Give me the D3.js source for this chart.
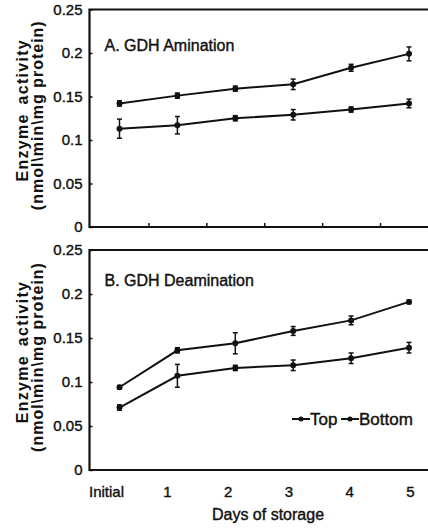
<!DOCTYPE html>
<html>
<head>
<meta charset="utf-8">
<script src="https://cdn.jsdelivr.net/npm/d3@7"></script>
<style>
  body { margin: 0; background: #fff; }
  svg { display: block; font-family: "Liberation Sans", Arial, sans-serif; }
  .tick text { font-size: 15px; fill: #111; stroke: #111; stroke-width: 0.4px; }
  .ttl { font-size: 16px; fill: #111; stroke: #111; stroke-width: 0.4px; }
</style>
</head>
<body>
<div class="graphic"></div>
<script>
var categories = ['Initial', '1', '2', '3', '4', '5'];
var yTicks = [0, 0.05, 0.1, 0.15, 0.2, 0.25];
var yTickLabels = ['0', '0.05', '0.1', '0.15', '0.2', '0.25'];
var seriesNames = ['Top', 'Bottom'];

// A. GDH Amination
var aminTop = [0.142, 0.151, 0.159, 0.164, 0.183, 0.199];
var aminTopErr = [0.003, 0.003, 0.003, 0.006, 0.004, 0.008];
var aminBottom = [0.113, 0.117, 0.125, 0.129, 0.135, 0.142];
var aminBottomErr = [0.011, 0.010, 0.003, 0.006, 0.003, 0.005];

// B. GDH Deamination
var deamTop = [0.094, 0.136, 0.144, 0.158, 0.170, 0.191];
var deamTopErr = [0.002, 0.003, 0.012, 0.005, 0.005, 0.002];
var deamBottom = [0.071, 0.107, 0.116, 0.119, 0.127, 0.139];
var deamBottomErr = [0.003, 0.013, 0.003, 0.006, 0.006, 0.006];

var width = 428;
var height = 529;
var left = 89.5;

var svg = d3.select('.graphic').append('svg')
	.attr('width', width)
	.attr('height', height)
	.attr('viewBox', `0 0 ${width} ${height}`);

var x = d3.scaleLinear().domain([0, 5]).range([119.5, 409]);
var xLabel = d3.scalePoint().domain(categories).range([106, 410]);

function makePanel(top, bottom, title, titleY, seriesA, errA, seriesB, errB, showTicks) {
	var y = d3.scaleLinear().domain([0, 0.25]).range([bottom, top]);
	var g = svg.append('g');

	// frame: top, left, bottom (right side runs off the page)
	g.append('path')
		.attr('d', `M${width},${top}H${left}V${bottom}H${width}`)
		.attr('fill', 'none')
		.attr('stroke', '#111')
		.attr('stroke-width', 2.2);

	var yAxis = g.append('g')
		.attr('transform', `translate(${left},0)`)
		.call(d3.axisLeft(y)
			.tickValues(yTicks)
			.tickFormat(function(d, i) { return yTickLabels[i]; })
			.tickSizeInner(-3)
			.tickSizeOuter(0)
			.tickPadding(7));
	yAxis.select('.domain').remove();
	yAxis.selectAll('.tick line').attr('stroke', '#111').attr('stroke-width', 1.5);

	if (showTicks) {
		var xAxis = g.append('g')
			.attr('transform', `translate(0,${bottom})`)
			.call(d3.axisBottom(x)
				.tickValues([0.5, 1.5, 2.5, 3.5, 4.5])
				.tickSizeInner(-4)
				.tickSizeOuter(0)
				.tickFormat(''));
		xAxis.select('.domain').remove();
		xAxis.selectAll('.tick line').attr('stroke', '#111').attr('stroke-width', 1.5);
	}

	g.append('text')
		.attr('class', 'ttl')
		.attr('x', left + 15)
		.attr('y', titleY)
		.text(title);

	// y axis label, two lines
	var mid = (top + bottom) / 2;
	g.append('text')
		.attr('transform', `translate(28,${mid - 8}) rotate(-90)`)
		.attr('text-anchor', 'middle')
		.style('font-size', '16px')
		.style('font-weight', 'bold')
		.style('letter-spacing', '1.3px')
		.style('word-spacing', '3px')
		.attr('fill', '#111')
		.text('Enzyme activity');
	g.append('text')
		.attr('transform', `translate(43,${mid - 3}) rotate(-90)`)
		.attr('text-anchor', 'middle')
		.style('font-size', '16px')
		.style('font-weight', 'bold')
		.style('letter-spacing', '1px')
		.attr('fill', '#111')
		.text('(nmol\\min\\mg protein)');

	var line = d3.line()
		.x(function(d, i) { return x(i); })
		.y(function(d) { return y(d); });

	[[seriesA, errA], [seriesB, errB]].forEach(function(s) {
		var vals = s[0], errs = s[1];
		g.append('path')
			.datum(vals)
			.attr('d', line)
			.attr('fill', 'none')
			.attr('stroke', '#111')
			.attr('stroke-width', 2);

		var eb = g.append('g').selectAll('g')
			.data(vals)
			.enter()
			.append('g');
		eb.append('line')
			.attr('x1', function(d, i) { return x(i); })
			.attr('x2', function(d, i) { return x(i); })
			.attr('y1', function(d, i) { return y(d + errs[i]); })
			.attr('y2', function(d, i) { return y(d - errs[i]); })
			.attr('stroke', '#111')
			.attr('stroke-width', 1.5);
		eb.append('line')
			.attr('x1', function(d, i) { return x(i) - 2.5; })
			.attr('x2', function(d, i) { return x(i) + 2.5; })
			.attr('y1', function(d, i) { return y(d + errs[i]); })
			.attr('y2', function(d, i) { return y(d + errs[i]); })
			.attr('stroke', '#111')
			.attr('stroke-width', 1.5);
		eb.append('line')
			.attr('x1', function(d, i) { return x(i) - 2.5; })
			.attr('x2', function(d, i) { return x(i) + 2.5; })
			.attr('y1', function(d, i) { return y(d - errs[i]); })
			.attr('y2', function(d, i) { return y(d - errs[i]); })
			.attr('stroke', '#111')
			.attr('stroke-width', 1.5);
		eb.append('circle')
			.attr('cx', function(d, i) { return x(i); })
			.attr('cy', function(d) { return y(d); })
			.attr('r', 3)
			.attr('fill', '#111');
	});

	return g;
}

makePanel(9.5, 227, 'A. GDH Amination', 51, aminTop, aminTopErr, aminBottom, aminBottomErr, true);
var panelB = makePanel(250, 470, 'B. GDH Deamination', 286, deamTop, deamTopErr, deamBottom, deamBottomErr, false);

// category labels under the lower panel
var catAxis = svg.append('g')
	.attr('transform', 'translate(0,470)')
	.call(d3.axisBottom(xLabel).tickSize(0).tickPadding(16));
catAxis.select('.domain').remove();

svg.append('text')
	.attr('class', 'ttl')
	.attr('x', 268)
	.attr('y', 520)
	.attr('text-anchor', 'middle')
	.text('Days of storage');

// legend
var legend = panelB.append('g').selectAll('g')
	.data(seriesNames)
	.enter()
	.append('g')
	.attr('transform', function(d, i) { return `translate(${i === 0 ? 292 : 341},419)`; });
legend.append('line')
	.attr('x1', 0).attr('x2', 18)
	.attr('stroke', '#111').attr('stroke-width', 2);
legend.append('circle')
	.attr('cx', 9).attr('r', 2.5).attr('fill', '#111');
legend.append('text')
	.attr('class', 'ttl')
	.attr('x', 18)
	.attr('y', 6)
	.style('font-size', '17px')
	.text(function(d) { return d; });
</script>
</body>
</html>
